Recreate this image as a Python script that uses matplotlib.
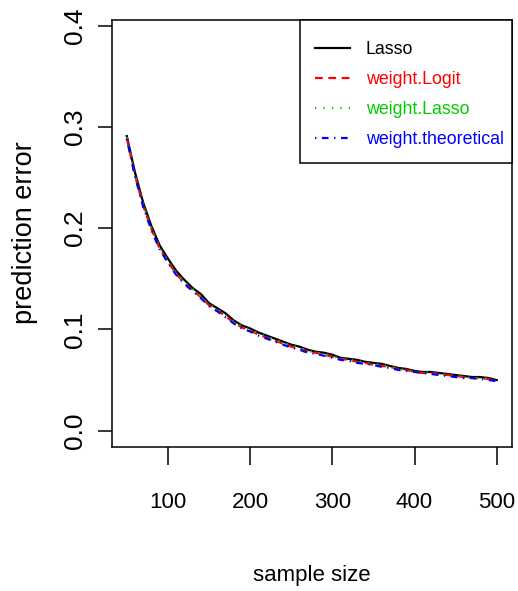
import matplotlib
matplotlib.use("Agg")
import matplotlib.pyplot as plt
from matplotlib.patches import Rectangle

sample_size = list(range(50, 501, 10))
lasso = [0.291, 0.255, 0.225, 0.202, 0.183, 0.170, 0.158, 0.149, 0.141, 0.135,
         0.126, 0.121, 0.116, 0.109, 0.104, 0.101, 0.097, 0.094, 0.091, 0.088,
         0.085, 0.083, 0.080, 0.078, 0.077, 0.075, 0.072, 0.071, 0.070, 0.068,
         0.067, 0.066, 0.064, 0.062, 0.061, 0.059, 0.058, 0.058, 0.057, 0.056,
         0.055, 0.054, 0.053, 0.053, 0.052, 0.050]
weight_logit = [0.289, 0.252, 0.222, 0.199, 0.180, 0.167, 0.155, 0.146, 0.139, 0.132,
                0.124, 0.119, 0.113, 0.107, 0.102, 0.099, 0.095, 0.092, 0.089, 0.086,
                0.083, 0.081, 0.078, 0.077, 0.075, 0.073, 0.071, 0.070, 0.068, 0.067,
                0.065, 0.064, 0.063, 0.061, 0.060, 0.058, 0.057, 0.057, 0.056, 0.055,
                0.054, 0.053, 0.052, 0.052, 0.051, 0.049]
weight_lasso = [0.290, 0.253, 0.223, 0.200, 0.181, 0.168, 0.156, 0.147, 0.140, 0.133,
                0.125, 0.120, 0.114, 0.108, 0.103, 0.100, 0.096, 0.093, 0.090, 0.087,
                0.084, 0.082, 0.079, 0.077, 0.076, 0.074, 0.071, 0.070, 0.069, 0.067,
                0.066, 0.065, 0.063, 0.061, 0.060, 0.058, 0.058, 0.057, 0.056, 0.055,
                0.054, 0.053, 0.052, 0.052, 0.051, 0.049]
weight_theoretical = [0.288, 0.251, 0.221, 0.198, 0.179, 0.166, 0.154, 0.145, 0.138, 0.131,
                      0.123, 0.118, 0.112, 0.106, 0.101, 0.098, 0.094, 0.091, 0.088, 0.085,
                      0.082, 0.080, 0.077, 0.076, 0.074, 0.072, 0.070, 0.069, 0.067, 0.066,
                      0.065, 0.063, 0.062, 0.060, 0.059, 0.058, 0.057, 0.056, 0.055, 0.054,
                      0.053, 0.052, 0.052, 0.051, 0.050, 0.049]

series_names = ["Lasso", "weight.Logit", "weight.Lasso", "weight.theoretical"]
x_ticks = [100, 200, 300, 400, 500]
y_ticks = [0.0, 0.1, 0.2, 0.3, 0.4]
y_tick_labels = ["0.0", "0.1", "0.2", "0.3", "0.4"]

plt.rcParams['font.family'] = ['Liberation Sans', 'DejaVu Sans']

W, H = 518, 591
fig = plt.figure(figsize=(W / 100, H / 100), dpi=100)
left, right, top, bottom = 112, 511.5, 20, 446.5
ax = fig.add_axes([left / W, 1 - bottom / H, (right - left) / W, (bottom - top) / H])

colors = ["black", "#FF0000", "#00CD00", "#0000FF"]
styles = ["-", (0, (3.5, 2.5)), (0, (0.6, 3.2)), (0, (0.6, 2.5, 3.0, 2.5))]
data = [lasso, weight_logit, weight_lasso, weight_theoretical]
lw = 1.6
for vals, c, ls, name in zip(data, colors, styles, series_names):
    ax.plot(sample_size, vals, color=c, linestyle=ls, linewidth=lw, label=name)

ax.set_xlim(32, 518)
ax.set_ylim(-0.0156, 0.4056)
ax.set_xticks(x_ticks)
ax.set_xticklabels([str(t) for t in x_ticks])
ax.set_yticks(y_ticks)
ax.set_yticklabels(y_tick_labels, rotation=90, va='center')
for s in ax.spines.values():
    s.set_linewidth(1.1)
ax.tick_params(axis='x', length=13, width=1.1, labelsize=16, pad=19.5)
ax.tick_params(axis='y', length=10, width=1.1, labelsize=19, pad=8)

fig.text(312 / W, 1 - 575 / H, "sample size", ha='center', va='center', fontsize=16)
fig.text(25 / W, 1 - 233 / H, "prediction error", ha='center', va='center',
         rotation=90, fontsize=19.5)

# legend frame (R-style box) in figure pixel coordinates
bx0, bx1, by0, by1 = 300, 512, 20, 163
fig.patches.append(Rectangle((bx0 / W, 1 - by1 / H), (bx1 - bx0) / W, (by1 - by0) / H,
                             transform=fig.transFigure, facecolor='white',
                             edgecolor='black', linewidth=1.1, zorder=3))

leg = fig.legend(*ax.get_legend_handles_labels(), loc='upper left',
                 bbox_to_anchor=(315 / W, 1 - 41 / H), bbox_transform=fig.transFigure,
                 borderaxespad=0, borderpad=0, fontsize=12.8, frameon=False,
                 handlelength=1.95, handletextpad=0.9, labelspacing=0.74)
leg.set_zorder(4)
for txt, c in zip(leg.get_texts(), colors):
    txt.set_color(c)

fig.savefig("out.png", dpi=100)
